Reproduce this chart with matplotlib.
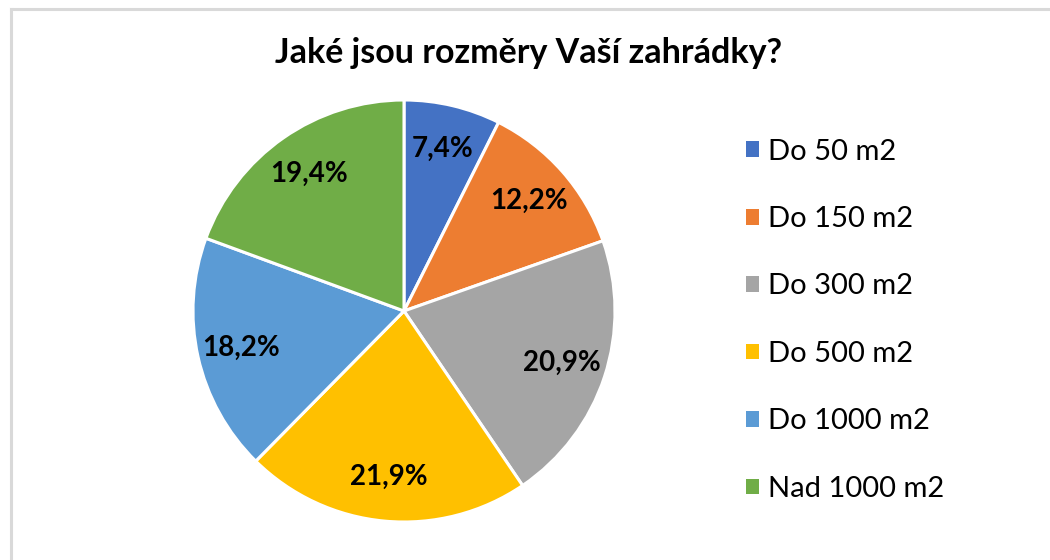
import matplotlib
matplotlib.use("Agg")
import matplotlib.pyplot as plt
from matplotlib.lines import Line2D
from matplotlib.patches import Patch

title = "Jaké jsou rozměry Vaší zahrádky?"
categories = ["Do 50 m2", "Do 150 m2", "Do 300 m2", "Do 500 m2", "Do 1000 m2", "Nad 1000 m2"]
values = [7.4, 12.2, 20.9, 21.9, 18.2, 19.4]
colors = ["#4472C4", "#ED7D31", "#A5A5A5", "#FFC000", "#5B9BD5", "#70AD47"]

plt.rcParams['font.family'] = ['Lato', 'DejaVu Sans']

W, H = 1050, 560
fig = plt.figure(figsize=(W / 100, H / 100), dpi=100)

# chart border (light gray)
fig.add_artist(Line2D([11 / W, 11 / W], [0, 1 - 9 / H], color="#D9D9D9", lw=2.2))
fig.add_artist(Line2D([11 / W, 1], [1 - 9 / H, 1 - 9 / H], color="#D9D9D9", lw=2.2))

cx, cy, r = 404, 311, 211
ax = fig.add_axes([(cx - r) / W, 1 - (cy + r) / H, 2 * r / W, 2 * r / H])
wedges, texts, autotexts = ax.pie(
    values, colors=colors, startangle=90, counterclock=False,
    autopct=lambda p: f"{p:.1f}%".replace(".", ","), pctdistance=0.79,
    wedgeprops=dict(edgecolor="white", linewidth=2.2),
    textprops=dict(fontsize=20, fontweight="bold", color="black"),
)
ax.set_aspect("equal")
ax.set_xlim(-1, 1)
ax.set_ylim(-1, 1)

fig.text(529 / W, 1 - 53 / H, title, ha="center", va="center",
         fontsize=24.5, fontweight="bold", color="black")

handles = [Patch(facecolor=c, edgecolor="none") for c in colors]
leg = fig.legend(handles, categories, loc="upper left",
                 bbox_to_anchor=(734 / W, 1 - 127 / H), frameon=False,
                 fontsize=21, handlelength=0.45, handleheight=0.45,
                 handletextpad=0.31, labelspacing=1.42, borderaxespad=0)

fig.savefig("out.png", dpi=100)
